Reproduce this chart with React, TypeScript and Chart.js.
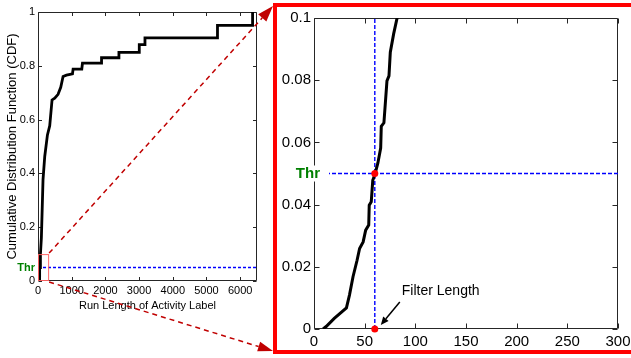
import React, { useEffect, useRef } from "react";
import { Chart, registerables } from "chart.js";

Chart.register(...registerables);

// ---- data ----
const runLength = [9, 12, 20, 32, 35, 38.5, 42.5, 45, 48.5, 51, 54, 54.5, 56.5, 58, 60, 63, 65.8, 66.4, 69, 72, 74, 75.3, 78.6, 82, 100, 125, 149, 200, 280, 348, 417, 497, 595, 675, 744, 845, 1023, 1042, 1300, 1320, 1886, 1886, 2402, 2402, 3006, 3006, 3175, 3175, 5327, 5327, 6369, 6369];
const cdfValues = [0, 0.0008, 0.0034, 0.0068, 0.0109, 0.0168, 0.0221, 0.0259, 0.028, 0.0318, 0.0334, 0.0398, 0.0409, 0.0478, 0.0496, 0.0533, 0.0582, 0.0652, 0.0663, 0.0798, 0.0814, 0.089, 0.0949, 0.1, 0.16, 0.27, 0.377, 0.463, 0.543, 0.577, 0.673, 0.68, 0.694, 0.72, 0.76, 0.765, 0.77, 0.788, 0.788, 0.81, 0.81, 0.83, 0.83, 0.85, 0.85, 0.879, 0.879, 0.904, 0.904, 0.95, 0.95, 1.0];

const leftXTicks = [0, 1000, 2000, 3000, 4000, 5000, 6000];
const leftYTicks = [0, 0.2, 0.4, 0.6, 0.8, 1];
const rightXTicks = [0, 50, 100, 150, 200, 250, 300];
const rightYTicks = [0, 0.02, 0.04, 0.06, 0.08, 0.1];
const leftXRange = [0, 6500];
const leftYRange = [0, 1];
const zoomXRange = [0, 300];
const zoomYRange = [0, 0.1];
const threshold = 0.05;
const filterLength = 60;
const thrLabel = "Thr";
const xTitle = "Run Length of Activity Label";
const yTitle = "Cumulative Distribution Function (CDF)";
const annotationText = "Filter Length";

const FONT = "'Liberation Sans', Arial, Helvetica, sans-serif";
const GREEN = "#008000";
const BLUE = "#0000ff";
const DARK_RED = "#c00000";

function boxPlugin(tickLen: number) {
  return {
    id: "matlabBox",
    beforeDatasetsDraw(chart: any) {
      const { ctx, chartArea: a, scales } = chart;
      const L = Math.round(a.left) + 0.5;
      const R = Math.round(a.right) - 0.5;
      const T = Math.round(a.top) + 0.5;
      const B = Math.round(a.bottom) - 0.5;
      ctx.save();
      ctx.strokeStyle = "#262626";
      ctx.lineWidth = 1;
      ctx.beginPath();
      ctx.rect(L, T, R - L, B - T);
      for (const t of scales.x.ticks) {
        const px = Math.round(scales.x.getPixelForValue(t.value)) + 0.5;
        ctx.moveTo(px, B);
        ctx.lineTo(px, B - tickLen);
        ctx.moveTo(px, T);
        ctx.lineTo(px, T + tickLen);
      }
      for (const t of scales.y.ticks) {
        if (t.value === threshold) continue;
        const py = Math.round(scales.y.getPixelForValue(t.value)) + 0.5;
        ctx.moveTo(L, py);
        ctx.lineTo(L + tickLen, py);
        ctx.moveTo(R, py);
        ctx.lineTo(R - tickLen, py);
      }
      ctx.stroke();
      ctx.restore();
    },
  };
}

// dashed guide lines: threshold (horizontal) and optional filter length (vertical)
function guidesPlugin(xRange: number[], yRange: number[], vertical: number | null, dash: number[]) {
  return {
    id: "guides",
    beforeDatasetsDraw(chart: any) {
      const { ctx, scales } = chart;
      ctx.save();
      ctx.strokeStyle = BLUE;
      ctx.lineWidth = 1.4;
      ctx.setLineDash(dash);
      ctx.beginPath();
      const py = scales.y.getPixelForValue(threshold);
      ctx.moveTo(scales.x.getPixelForValue(xRange[0]), py);
      ctx.lineTo(scales.x.getPixelForValue(xRange[1]), py);
      if (vertical !== null) {
        const px = scales.x.getPixelForValue(vertical);
        ctx.moveTo(px, scales.y.getPixelForValue(yRange[0]));
        ctx.lineTo(px, scales.y.getPixelForValue(yRange[1]));
      }
      ctx.stroke();
      ctx.restore();
    },
  };
}

function tickFont(size: number) {
  return (c: any) => ({
    family: FONT,
    size,
    weight: c.tick && c.tick.value === threshold ? "bold" : "normal",
  });
}
function tickColor(c: any) {
  return c.tick && c.tick.value === threshold ? GREEN : "#000";
}
function tickLabel(v: any) {
  return v === threshold ? thrLabel : String(v);
}

function arrow(ctx: CanvasRenderingContext2D, x0: number, y0: number, x1: number, y1: number, headLen: number, headHalf: number, color: string, dash: number[], width: number) {
  const dx = x1 - x0, dy = y1 - y0;
  const L = Math.hypot(dx, dy);
  const ux = dx / L, uy = dy / L;
  const bx = x1 - ux * headLen, by = y1 - uy * headLen;
  ctx.save();
  ctx.strokeStyle = color;
  ctx.fillStyle = color;
  ctx.lineWidth = width;
  ctx.setLineDash(dash);
  ctx.beginPath();
  ctx.moveTo(x0, y0);
  ctx.lineTo(bx, by);
  ctx.stroke();
  ctx.setLineDash([]);
  ctx.beginPath();
  ctx.moveTo(x1, y1);
  ctx.lineTo(bx - uy * headHalf, by + ux * headHalf);
  ctx.lineTo(bx + uy * headHalf, by - ux * headHalf);
  ctx.closePath();
  ctx.fill();
  ctx.restore();
}

const cdfPoints = () => runLength.map((x, i) => ({ x, y: cdfValues[i] }));

export default function App() {
  const leftRef = useRef<HTMLCanvasElement>(null);
  const rightRef = useRef<HTMLCanvasElement>(null);
  const overlayRef = useRef<HTMLCanvasElement>(null);

  useEffect(() => {
    Chart.defaults.font.family = FONT;
    Chart.defaults.color = "#000";

    const LEFT_POS = { x: 0, y: 0 };

    const left = new Chart(leftRef.current as HTMLCanvasElement, {
      type: "line",
      data: {
        datasets: [
          {
            data: cdfPoints(),
            borderColor: "#000",
            borderWidth: 2.8,
            pointRadius: 0,
            tension: 0,
            fill: false,
          } as any,
        ],
      },
      options: {
        animation: false,
        responsive: false,
        maintainAspectRatio: false,
        devicePixelRatio: 1,
        layout: { padding: { left: 0, top: 12, right: 13, bottom: 0 }, autoPadding: false } as any,
        plugins: { legend: { display: false }, tooltip: { enabled: false } },
        events: [],
        scales: {
          x: {
            type: "linear",
            min: leftXRange[0],
            max: leftXRange[1],
            grid: { display: false, drawTicks: false },
            border: { display: false },
            afterBuildTicks: (s: any) => { s.ticks = leftXTicks.map((v) => ({ value: v })); },
            afterFit: (s: any) => { s.height = 41; s.paddingLeft = 0; s.paddingRight = 0; },
            ticks: { autoSkip: false, maxRotation: 0, minRotation: 0, padding: 3, color: "#000", font: { size: 11, family: FONT }, callback: tickLabel },
            title: { display: true, text: xTitle, color: "#000", font: { size: 11, family: FONT }, padding: { top: 0, bottom: 9.7 } },
          },
          y: {
            type: "linear",
            min: leftYRange[0],
            max: leftYRange[1],
            grid: { display: false, drawTicks: false },
            border: { display: false },
            afterBuildTicks: (s: any) => { s.ticks = [...leftYTicks, threshold].sort((a, b) => a - b).map((v) => ({ value: v })); },
            afterFit: (s: any) => { s.width = 38; s.paddingTop = 0; s.paddingBottom = 0; },
            ticks: { autoSkip: false, padding: 3, color: tickColor as any, font: tickFont(11) as any, callback: tickLabel },
            title: { display: true, text: yTitle, color: "#000", font: { size: 13, family: FONT }, padding: { top: 4.7, bottom: 0 } },
          },
        },
      } as any,
      plugins: [
        boxPlugin(3.5),
        guidesPlugin(leftXRange, leftYRange, null, [3, 2]),
        {
          id: "zoomRect",
          afterDatasetsDraw(chart: any) {
            const { ctx, scales } = chart;
            const x0 = scales.x.getPixelForValue(zoomXRange[0]);
            const x1 = scales.x.getPixelForValue(zoomXRange[1]);
            const y0 = scales.y.getPixelForValue(zoomYRange[1]);
            const y1 = scales.y.getPixelForValue(zoomYRange[0]);
            ctx.save();
            ctx.strokeStyle = "rgba(255,95,95,0.95)";
            ctx.lineWidth = 1;
            ctx.strokeRect(x0 + 0.5, y0 + 0.5, x1 - x0, y1 - y0 - 1);
            ctx.restore();
          },
        },
      ],
    });

    const right = new Chart(rightRef.current as HTMLCanvasElement, {
      type: "line",
      data: {
        datasets: [
          {
            data: [{ x: filterLength, y: threshold }, { x: filterLength, y: zoomYRange[0] }],
            showLine: false,
            pointRadius: 3.5,
            pointBackgroundColor: "#ff0000",
            pointBorderColor: "#ff0000",
            pointBorderWidth: 0,
            clip: false,
          } as any,
          {
            data: cdfPoints(),
            borderColor: "#000",
            borderWidth: 3,
            pointRadius: 0,
            tension: 0,
            fill: false,
          } as any,
        ],
      },
      options: {
        animation: false,
        responsive: false,
        maintainAspectRatio: false,
        devicePixelRatio: 1,
        layout: { padding: { left: 0, top: 10, right: 13, bottom: 0 }, autoPadding: false } as any,
        plugins: { legend: { display: false }, tooltip: { enabled: false } },
        events: [],
        scales: {
          x: {
            type: "linear",
            min: zoomXRange[0],
            max: zoomXRange[1],
            grid: { display: false, drawTicks: false },
            border: { display: false },
            afterBuildTicks: (s: any) => { s.ticks = rightXTicks.map((v) => ({ value: v })); },
            afterFit: (s: any) => { s.height = 25; s.paddingLeft = 0; s.paddingRight = 0; },
            ticks: { autoSkip: false, maxRotation: 0, minRotation: 0, padding: 4, color: "#000", font: { size: 15, family: FONT }, callback: tickLabel },
          },
          y: {
            type: "linear",
            min: zoomYRange[0],
            max: zoomYRange[1],
            grid: { display: false, drawTicks: false },
            border: { display: false },
            afterBuildTicks: (s: any) => { s.ticks = rightYTicks.map((v) => ({ value: v })); },
            afterFit: (s: any) => { s.width = 35; s.paddingTop = 0; s.paddingBottom = 0; },
            ticks: { autoSkip: false, padding: 3, color: "#000", font: { size: 15, family: FONT }, callback: tickLabel },
          },
        },
      } as any,
      plugins: [
        boxPlugin(5),
        guidesPlugin(zoomXRange, zoomYRange, filterLength, [4, 2]),
        {
          id: "thrLabel",
          beforeDatasetsDraw(chart: any) {
            // threshold label sitting over the left axis, like the reference
            const { ctx, scales, chartArea } = chart;
            const py = scales.y.getPixelForValue(threshold);
            const xr = chartArea.left + 6;
            ctx.save();
            ctx.font = `bold 15px ${FONT}`;
            const w = ctx.measureText(thrLabel).width;
            ctx.fillStyle = "#fff";
            ctx.fillRect(xr - w - 1, py - 8, w + 10, 16);
            ctx.fillStyle = GREEN;
            ctx.textAlign = "right";
            ctx.textBaseline = "middle";
            ctx.fillText(thrLabel, xr, py + 0.5);
            ctx.restore();
          },
        },
        {
          id: "filterAnnotation",
          afterDatasetsDraw(chart: any) {
            const { ctx, scales } = chart;
            const px = scales.x.getPixelForValue(filterLength);
            const py = scales.y.getPixelForValue(zoomYRange[0]);
            ctx.save();
            ctx.font = `14px ${FONT}`;
            ctx.fillStyle = "#000";
            ctx.textAlign = "left";
            ctx.textBaseline = "middle";
            ctx.fillText(annotationText, px + 27, py - 37.5);
            ctx.restore();
            arrow(ctx, px + 25, py - 27, px + 6, py - 4, 8, 3.5, "#000", [], 1.5);
          },
        },
      ],
    });

    // overlay: zoom frame and connecting arrows
    const oc = overlayRef.current as HTMLCanvasElement;
    const octx = oc.getContext("2d") as CanvasRenderingContext2D;
    octx.clearRect(0, 0, oc.width, oc.height);
    const frame = { x: 275, y: 5, w: 360, h: 347 };
    octx.save();
    octx.strokeStyle = "#ff0000";
    octx.lineWidth = 4;
    octx.strokeRect(frame.x, frame.y, frame.w, frame.h);
    octx.restore();

    const ls = left.scales as any;
    const cornerX = LEFT_POS.x + ls.x.getPixelForValue(zoomXRange[1]);
    const cornerTop = LEFT_POS.y + ls.y.getPixelForValue(zoomYRange[1]);
    const cornerBottom = LEFT_POS.y + ls.y.getPixelForValue(zoomYRange[0]);
    arrow(octx, cornerX + 1, cornerTop - 1, frame.x - 2, frame.y + 1, 16, 5.5, DARK_RED, [5, 4], 1.5);
    arrow(octx, cornerX + 1, cornerBottom + 1, frame.x - 2, frame.y + frame.h - 1, 15, 5, DARK_RED, [5, 4], 1.5);

    return () => {
      left.destroy();
      right.destroy();
    };
  }, []);

  return (
    <div style={{ position: "fixed", left: 0, top: 0, width: 631, height: 358, background: "#fff", overflow: "hidden" }}>
      <canvas ref={leftRef} width={270} height={322} style={{ position: "absolute", left: 0, top: 0, width: 270, height: 322 }} />
      <canvas ref={rightRef} width={352} height={346} style={{ position: "absolute", left: 279, top: 8, width: 352, height: 346 }} />
      <canvas ref={overlayRef} width={631} height={358} style={{ position: "absolute", left: 0, top: 0, width: 631, height: 358, pointerEvents: "none" }} />
    </div>
  );
}
